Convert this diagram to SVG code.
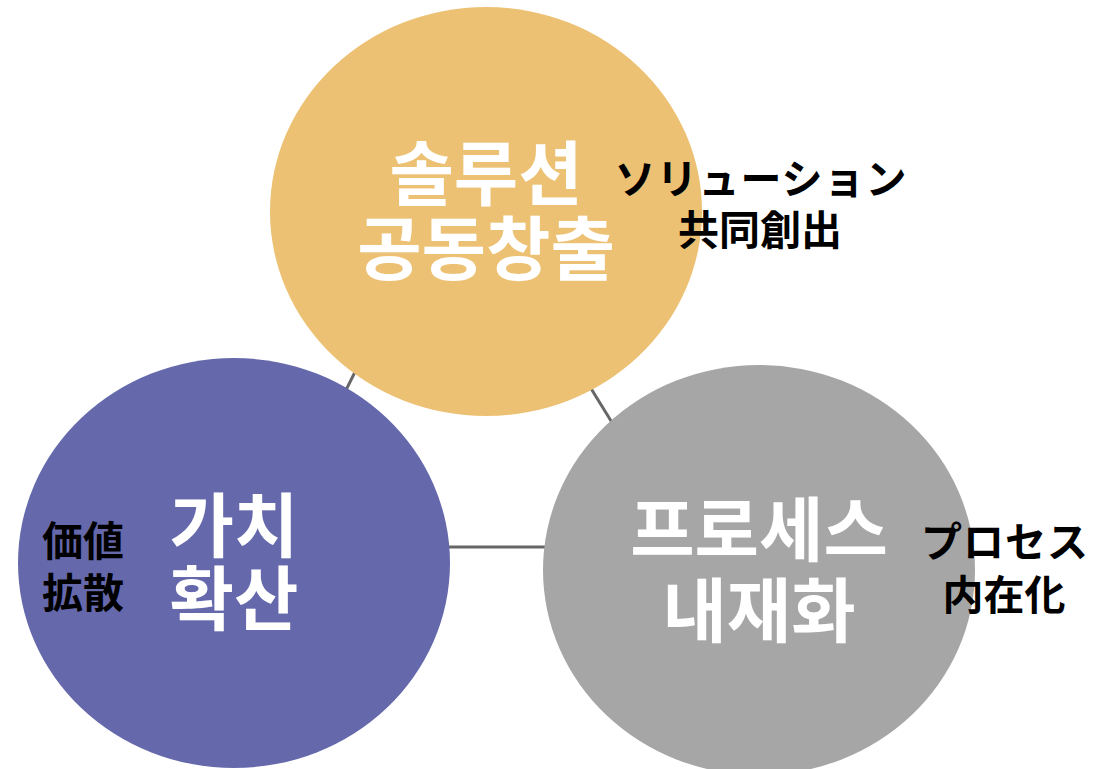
<svg xmlns="http://www.w3.org/2000/svg" width="1101" height="769" viewBox="0 0 1101 769">
<style>
.k{font-family:"Noto Sans CJK KR","Noto Sans CJK JP",sans-serif;font-weight:bold;font-size:70px;fill:#fff;text-anchor:middle}
.j{font-family:"Noto Sans CJK JP","Noto Sans CJK KR",sans-serif;font-weight:bold;font-size:41px;fill:#000;text-anchor:middle}
.c{stroke:#666;stroke-width:3;fill:none}
</style>
<rect width="1101" height="769" fill="#fff"/>
<g id="connectors">
<line class="c" x1="343" y1="396" x2="359" y2="364"/>
<line class="c" x1="587" y1="382" x2="616" y2="429"/>
<line class="c" x1="445" y1="547" x2="550" y2="547"/>
</g>
<g id="node-top">
<ellipse cx="486" cy="211.5" rx="216" ry="204.5" fill="#EDC173"/>
<text class="k" x="486" y="200">솔루션</text>
<text class="k" x="486" y="275">공동창출</text>
<text class="j" x="761" y="194" letter-spacing="1">ソリューション</text>
<text class="j" x="760" y="245">共同創出</text>
</g>
<g id="node-left">
<ellipse cx="234" cy="563" rx="216" ry="205" fill="#6569AC"/>
<text class="k" x="234" y="552">가치</text>
<text class="k" x="234" y="625">확산</text>
<text class="j" x="83" y="556">価値</text>
<text class="j" x="83" y="608">拡散</text>
</g>
<g id="node-right">
<ellipse cx="759" cy="570" rx="216" ry="205" fill="#A6A6A6"/>
<text class="k" x="759" y="556">프로세스</text>
<text class="k" x="759" y="637">내재화</text>
<text class="j" x="1005" y="557" letter-spacing="1">プロセス</text>
<text class="j" x="1004" y="610">内在化</text>
</g>
</svg>
